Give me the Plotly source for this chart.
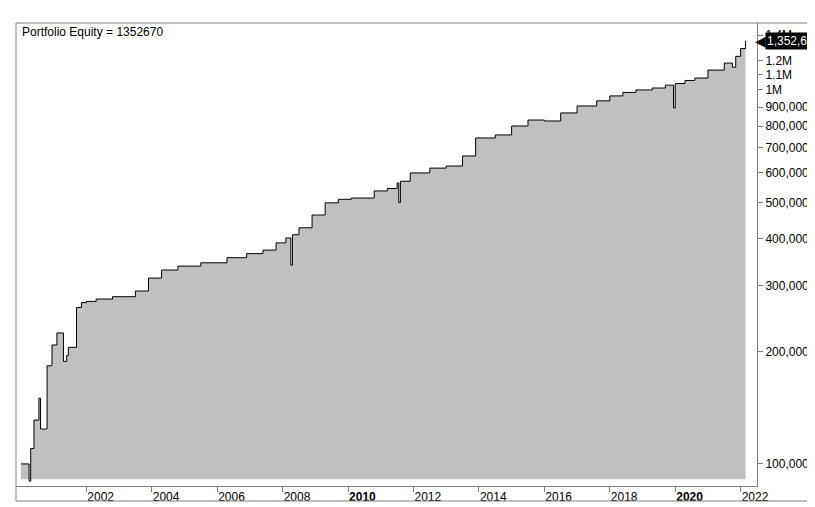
import plotly.graph_objects as go

# equity curve (fractional year, portfolio value)
years = [2000.0, 2000.25, 2000.3, 2000.4, 2000.55, 2000.6, 2000.8, 2000.95, 2001.1, 2001.3, 2001.4,
         2001.45, 2001.7, 2001.85, 2002.0, 2002.3, 2002.8, 2003.5, 2003.9, 2004.3, 2004.8, 2005.5,
         2006.3, 2006.9, 2007.4, 2007.8, 2008.1, 2008.25, 2008.3, 2008.5, 2008.9, 2009.3, 2009.7,
         2010.1, 2010.8, 2011.2, 2011.5, 2011.55, 2011.6, 2011.9, 2012.5, 2013.0, 2013.5, 2013.9, 2014.5,
         2015.0, 2015.5, 2016.0, 2016.5, 2017.0, 2017.6, 2018.0, 2018.4, 2018.8, 2019.3, 2019.7,
         2019.95, 2020.0, 2020.3, 2020.6, 2021.0, 2021.5, 2021.75, 2021.85, 2022.0, 2022.15]
equity = [100000, 90000, 110000, 131000, 150000, 124000, 183000, 208000, 224000, 188000, 195000,
          205000, 262000, 270000, 272000, 276000, 280000, 290000, 314000, 330000, 338000, 345000,
          356000, 365000, 373000, 390000, 402000, 340000, 410000, 428000, 463000, 499000, 510000,
          514000, 537000, 545000, 564000, 500000, 570000, 600000, 618000, 626000, 666000, 744000, 758000,
          801000, 831000, 826000, 868000, 906000, 935000, 964000, 985000, 1000000, 1012000, 1030000,
          895000, 1040000, 1060000, 1076000, 1130000, 1180000, 1150000, 1230000, 1290000, 1352670]
base = 91000

y_ticks = [100000, 200000, 300000, 400000, 500000, 600000, 700000, 800000, 900000,
           1000000, 1100000, 1200000, 1400000]
y_text = ["100,000", "200,000", "300,000", "400,000", "500,000", "600,000", "700,000",
          "800,000", "900,000", "1M", "1.1M", "1.2M", "1.4M"]
x_ticks = list(range(2002, 2023, 2))
x_text = [("<b>%d</b>" % y if y in (2010, 2020) else str(y)) for y in x_ticks]

fig = go.Figure()
fig.add_trace(go.Scatter(x=[years[0], years[-1]], y=[base, base], mode="lines",
                         line=dict(width=0), hoverinfo="skip", showlegend=False))
fig.add_trace(go.Scatter(x=years, y=equity, mode="lines", line_shape="hv",
                         line=dict(color="black", width=1), fill="tonexty",
                         fillcolor="#c0c0c0", showlegend=False))

fig.update_layout(
    width=815, height=507, margin=dict(l=8, r=66, t=15, b=29, autoexpand=False),
    paper_bgcolor="white", plot_bgcolor="white",
    font=dict(family="Liberation Sans, Arial", size=12, color="black"),
    xaxis=dict(range=[1999.85, 2022.5], tickvals=x_ticks, ticktext=x_text,
               ticks="outside", ticklen=5, tickcolor="#808080", automargin=False,
               ticklabelposition="outside right", showgrid=False, zeroline=False,
               showline=True, linecolor="#808080"),
    yaxis=dict(type="log", side="right", range=[4.941, 6.179], tickvals=y_ticks,
               ticktext=y_text, ticks="outside", ticklen=5, tickcolor="#808080",
               showgrid=False, zeroline=False, showline=True, linecolor="#808080",
               automargin=False, tickfont=dict(size=12)),
)
# outer frame
fig.add_shape(type="rect", xref="paper", yref="paper", x0=0, x1=800 / 741, y0=-15 / 463, y1=1,
              line=dict(color="#808080", width=1))
fig.add_annotation(xref="paper", yref="paper", x=0.005, y=1, xanchor="left", yanchor="top",
                   text="Portfolio Equity = 1352670", showarrow=False, font=dict(size=12))
fig.add_annotation(xref="paper", yref="y", x=1.0, y=6.131, xanchor="left", yanchor="middle",
                   text="◀", showarrow=False, font=dict(size=14, color="black"), xshift=-4)
fig.add_annotation(xref="paper", yref="y", x=1.0, y=6.131, xanchor="left", yanchor="middle",
                   text="1,352,670", showarrow=False, bgcolor="black",
                   font=dict(size=12, color="white"), xshift=8, borderpad=1)
fig.write_html("out.html")
